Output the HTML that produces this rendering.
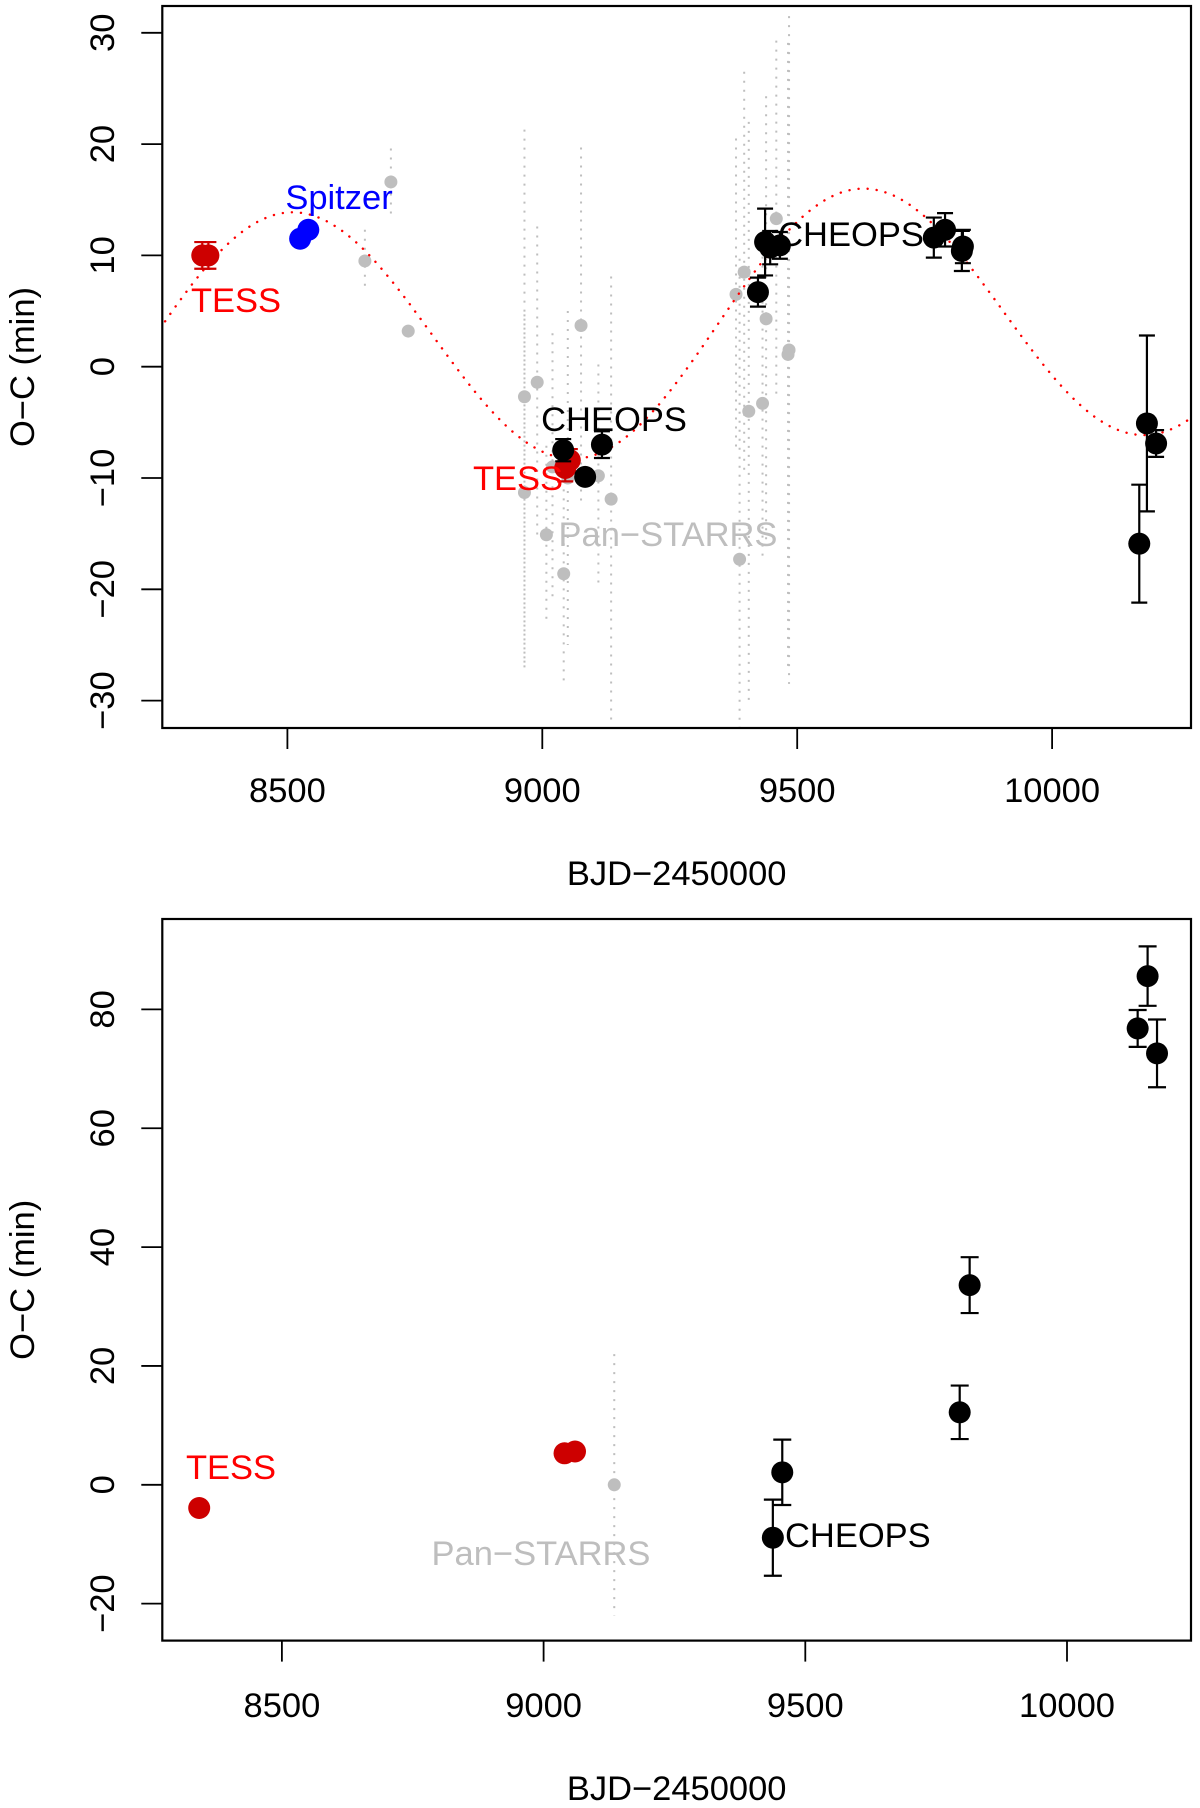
<!DOCTYPE html>
<html><head><meta charset="utf-8"><style>
html,body{margin:0;padding:0;background:#fff}
svg text{font-family:"Liberation Sans",sans-serif}
</style></head><body>
<svg id="fig" width="1200" height="1803" viewBox="0 0 1200 1803" xmlns="http://www.w3.org/2000/svg">
<defs>
<clipPath id="clipTop"><rect x="162" y="6" width="1029" height="722"/></clipPath>
<clipPath id="clipBot"><rect x="162" y="919" width="1029" height="722"/></clipPath>
</defs>
<g id="top"></g>
<g id="bot"></g>
</svg>
<script>
// ---- top panel data ----
const topXTicks = [8500, 9000, 9500, 10000];
const topYTicks = [-30, -20, -10, 0, 10, 20, 30];
const psTopX = [8652,8703,8737,8965,8990,8965,9008,9020,9042,9050,9076,9110,9135,9380,9396,9405,9387,9432,9439,9459,9482,9484];
const psTopY = [9.5,16.6,3.2,-2.7,-1.4,-11.3,-15.1,-9,-18.6,-10,3.7,-9.8,-11.9,6.5,8.5,-4,-17.3,-3.3,4.3,13.3,1.1,1.5];
const psTopErr = [2.8,3,0.5,24,14,16,8,12,10,15,16,10,20,14,18,26,27,14,20,16,28,30];
const tessTopX = [8333,8345,9045,9054];
const tessTopY = [10,10,-9.1,-8.4];
const tessTopErr = [1.2,1.2,1.2,1.0];
const spitzerX = [8525,8541];
const spitzerY = [11.5,12.3];
const cheopsTopX = [9041,9084,9117,9423,9437,9447,9466,9768,9790,9823,9825,10171,10186,10204];
const cheopsTopY = [-7.5,-9.9,-7.0,6.7,11.2,10.7,10.9,11.6,12.3,10.4,10.8,-15.9,-5.1,-6.9];
const cheopsTopErr = [1.0,0.5,1.2,1.3,3.0,1.5,1.2,1.8,1.5,1.8,1.5,5.3,7.9,1.2];
// model: [amplitude, period, peak epoch, offset, slope, slope ref]
const modelParams = [11.6, 1120, 8505, 2.8, 0.0019, 8785];
// ---- bottom panel data ----
const botXTicks = [8500, 9000, 9500, 10000];
const botYTicks = [-20, 0, 20, 40, 60, 80];
const tessBotX = [8342, 9040, 9060];
const tessBotY = [-3.9, 5.3, 5.6];
const psBotX = [9135];
const psBotY = [0];
const psBotErr = [22];
const cheopsBotX = [9438, 9456, 9795, 9814, 10135, 10154, 10172];
const cheopsBotY = [-8.9, 2.1, 12.2, 33.6, 76.8, 85.6, 72.6];
const cheopsBotErr = [6.4, 5.5, 4.5, 4.7, 3.1, 5.0, 5.7];

const FS = 34.5;
const NS = "http://www.w3.org/2000/svg";
function mk(parent, tag, attrs, text){
  const e = document.createElementNS(NS, tag);
  for (const k in attrs) e.setAttribute(k, attrs[k]);
  if (text !== undefined) e.textContent = text;
  parent.appendChild(e);
  return e;
}
function scale(d0,d1,p0,p1){ return v => p0 + (v-d0)*(p1-p0)/(d1-d0); }

function axes(g, box, sx, sy, xt, yt, prefix, xLabY, xTitleY){
  const r = mk(g,'rect',{x:box.l,y:box.t,width:box.r-box.l,height:box.b-box.t,fill:'none',stroke:'#000','stroke-width':2.2});
  
  
  xt.forEach(v=>{
    const x = sx(v);
    const t = mk(g,'line',{x1:x,x2:x,y1:box.b,y2:box.b+21,stroke:'#000','stroke-width':1.8});
    
    
    const l = mk(g,'text',{x:x,y:xLabY,'font-size':FS,'text-anchor':'middle'}, String(v));
    
    
  });
  yt.forEach(v=>{
    const y = sy(v);
    const t = mk(g,'line',{x1:box.l-21,x2:box.l,y1:y,y2:y,stroke:'#000','stroke-width':1.8});
    
    
    const l = mk(g,'text',{x:0,y:0,'font-size':FS,'text-anchor':'middle',transform:`translate(114,${y}) rotate(-90)`}, String(v).replace('-','\u2212'));
    
    
  });
  const xt2 = mk(g,'text',{x:(box.l+box.r)/2,y:xTitleY,'font-size':FS,'text-anchor':'middle'},'BJD\u22122450000');
  
  
  const yt2 = mk(g,'text',{x:0,y:0,'font-size':FS,'text-anchor':'middle',transform:`translate(34,${(box.t+box.b)/2}) rotate(-90)`},'O\u2212C (min)');
  
  
}
function errbar(g, x, y1, y2, color, cap, dotted, name){
  const l = mk(g,'line',{x1:x,x2:x,y1:y1,y2:y2,stroke:color,'stroke-width':dotted?2:2.2,'stroke-dasharray':dotted?'2 7':'none'});
  
  
  if (cap){
    mk(g,'line',{x1:x-cap,x2:x+cap,y1:y1,y2:y1,stroke:color,'stroke-width':2.2});
    mk(g,'line',{x1:x-cap,x2:x+cap,y1:y2,y2:y2,stroke:color,'stroke-width':2.2});
  }
}
function pt(g,x,y,r,color,name){
  const c = mk(g,'circle',{cx:x,cy:y,r:r,fill:color});
  
  
}
function label(g,x,y,txt,color,name,anchor){
  const t = mk(g,'text',{x:x,y:y,'font-size':FS,fill:color,'text-anchor':anchor||'middle'},txt);
  
  
}

// ---- TOP ----
(function(){
  const g = document.getElementById('top');
  const box = {l:162.3,r:1191,t:6,b:728};
  const sx = scale(9000,9500,542.3,797.2);
  const sy = scale(0,10,366.7,255.4);
  const pg = mk(g,'g',{'clip-path':'url(#clipTop)'});
  psTopX.forEach((x,i)=>errbar(pg,sx(x),sy(psTopY[i]+psTopErr[i]),sy(psTopY[i]-psTopErr[i]),'#bebebe',0,true,'panstarrs-error-bar'));
  psTopX.forEach((x,i)=>pt(pg,sx(x),sy(psTopY[i]),6.5,'#bebebe','panstarrs-point'));
  const [A,P,t0,c0,b,tr] = modelParams;
  let d='';
  for (let x=8250; x<=10280; x+=5){
    const y = A*Math.cos(2*Math.PI*(x-t0)/P) + c0 + b*(x-tr);
    d += (d?'L':'M') + sx(x).toFixed(1) + ',' + sy(y).toFixed(1);
  }
  const m = mk(pg,'path',{d:d,fill:'none',stroke:'#ff0000','stroke-width':2.4,'stroke-dasharray':'0.1 9','stroke-linecap':'round'});
  
  
  tessTopX.forEach((x,i)=>errbar(pg,sx(x),sy(tessTopY[i]+tessTopErr[i]),sy(tessTopY[i]-tessTopErr[i]),'#cd0000',8,false,'tess-error-bar'));
  tessTopX.forEach((x,i)=>pt(pg,sx(x),sy(tessTopY[i]),11,'#cd0000','tess-point'));
  spitzerX.forEach((x,i)=>pt(pg,sx(x),sy(spitzerY[i]),11,'#0000ff','spitzer-point'));
  cheopsTopX.forEach((x,i)=>errbar(pg,sx(x),sy(cheopsTopY[i]+cheopsTopErr[i]),sy(cheopsTopY[i]-cheopsTopErr[i]),'#000',8,false,'cheops-error-bar'));
  cheopsTopX.forEach((x,i)=>pt(pg,sx(x),sy(cheopsTopY[i]),11,'#000','cheops-point'));
  axes(g, box, sx, sy, topXTicks, topYTicks, 'top', 802, 885);
  label(g,236,312,'TESS','#ff0000','tess-label');
  label(g,339,209,'Spitzer','#0000ff','spitzer-label');
  label(g,614,431,'CHEOPS','#000','cheops-label');
  label(g,518,490,'TESS','#ff0000','tess-label-2');
  label(g,668,546,'Pan\u2212STARRS','#bebebe','panstarrs-label');
  label(g,851,246,'CHEOPS','#000','cheops-label-2');
})();

// ---- BOTTOM ----
(function(){
  const g = document.getElementById('bot');
  const box = {l:162.3,r:1191,t:919,b:1640.6};
  const sx = scale(9000,9500,543.6,805.3);
  const sy = scale(0,80,1484.8,1009.4);
  const pg = mk(g,'g',{'clip-path':'url(#clipBot)'});
  psBotX.forEach((x,i)=>errbar(pg,sx(x),sy(psBotY[i]+psBotErr[i]),sy(psBotY[i]-psBotErr[i]),'#bebebe',0,true,'panstarrs-error-bar'));
  psBotX.forEach((x,i)=>pt(pg,sx(x),sy(psBotY[i]),6.5,'#bebebe','panstarrs-point'));
  tessBotX.forEach((x,i)=>pt(pg,sx(x),sy(tessBotY[i]),11,'#cd0000','tess-point'));
  cheopsBotX.forEach((x,i)=>errbar(pg,sx(x),sy(cheopsBotY[i]+cheopsBotErr[i]),sy(cheopsBotY[i]-cheopsBotErr[i]),'#000',9,false,'cheops-error-bar'));
  cheopsBotX.forEach((x,i)=>pt(pg,sx(x),sy(cheopsBotY[i]),11,'#000','cheops-point'));
  axes(g, box, sx, sy, botXTicks, botYTicks, 'bottom', 1717, 1800);
  label(g,231,1479,'TESS','#ff0000','tess-label');
  label(g,541,1565,'Pan\u2212STARRS','#bebebe','panstarrs-label');
  label(g,785,1547,'CHEOPS','#000','cheops-label','start');
})();
</script>
</body></html>
